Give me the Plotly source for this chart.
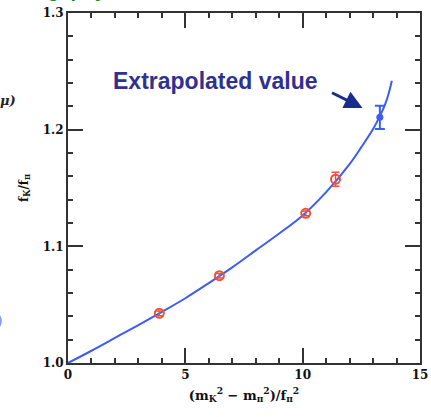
import plotly.graph_objects as go

# Fit curve
curve_x = [0, 1, 2, 3, 4, 5, 6, 7, 8, 9, 10, 11, 12, 12.5, 13, 13.3, 13.5, 13.65, 13.8]
curve_y = [1.000, 1.0105, 1.0215, 1.0325, 1.0438, 1.0555, 1.0685, 1.0820, 1.0965,
           1.1110, 1.1265, 1.1465, 1.1705, 1.185, 1.2005, 1.212, 1.221, 1.230, 1.242]

# Lattice data points
data_x = [3.89, 6.45, 10.13, 11.40]
data_y = [1.0426, 1.0748, 1.1283, 1.1575]
data_err = [0.002, 0.002, 0.002, 0.006]

# Extrapolated value
extrap_x = [13.29]
extrap_y = [1.2106]
extrap_err = [0.010]

serif = "DejaVu Serif"
red = "#f4502e"
blue = "#3d5cf5"

fig = go.Figure()
fig.add_trace(go.Scatter(x=curve_x, y=curve_y, mode="lines",
                         line=dict(color=blue, width=2, shape="spline", smoothing=1.0),
                         hoverinfo="skip"))
fig.add_trace(go.Scatter(x=data_x, y=data_y, mode="markers",
                         marker=dict(symbol="circle-open", size=9, color=red, line=dict(width=2)),
                         error_y=dict(type="data", array=data_err, color=red, thickness=1.5, width=4)))
fig.add_trace(go.Scatter(x=extrap_x, y=extrap_y, mode="markers",
                         marker=dict(symbol="circle", size=7, color=blue),
                         error_y=dict(type="data", array=extrap_err, color=blue, thickness=2, width=5)))

axis_common = dict(showgrid=False, zeroline=False, showline=True, linecolor="#333",
                   linewidth=2, mirror="allticks", ticks="inside", ticklen=15,
                   tickwidth=2, tickcolor="#333", automargin=False,
                   tickfont=dict(family=serif, size=12, color="#111", weight="bold"))

fig.update_xaxes(range=[0, 15], tickvals=[0, 5, 10, 15], ticktext=["0", "5", "10", "15"],
                 minor=dict(dtick=1, ticks="inside", ticklen=5, tickwidth=1.5, tickcolor="#333"),
                 title=dict(text="(m<sub>K</sub><sup>2</sup> − m<sub>π</sub><sup>2</sup>)/f<sub>π</sub><sup>2</sup>",
                            font=dict(family=serif, size=13, color="#111", weight="bold"), standoff=9),
                 **axis_common)
fig.update_yaxes(range=[1.0, 1.3], tickvals=[1.0, 1.1, 1.2, 1.3], ticktext=["1.0", "1.1", "1.2", "1.3"],
                 minor=dict(dtick=0.02, ticks="inside", ticklen=5, tickwidth=1.5, tickcolor="#333"),
                 title=dict(text="f<sub>K</sub>/f<sub>π</sub>",
                            font=dict(family=serif, size=12, color="#111", weight="bold"), standoff=12),
                 **axis_common)

fig.add_annotation(x=12.55, y=1.2186, xref="x", yref="y", ax=-32, ay=-16,
                   showarrow=True, arrowhead=2, arrowsize=1.2, arrowwidth=3,
                   arrowcolor="#1a2d8c", text="")
fig.add_annotation(xref="x", yref="y", x=(215 - 68.3) / 23.4, y=1 + (363 - 81) / 1166.7,
                   text="<b>Extrapolated value</b>", showarrow=False,
                   font=dict(family="Liberation Sans", size=23, color="#2e3192"))
fig.add_annotation(xref="paper", yref="paper", x=-0.17, y=(363 - 100) / 350,
                   xanchor="center", yanchor="middle", text="<b><i>μ)</i></b>",
                   showarrow=False, font=dict(family=serif, size=13, color="#222"))
fig.add_annotation(xref="paper", yref="paper", x=-0.1, y=1.029, xanchor="left", yanchor="bottom",
                   text="<b>ng, physical</b>", showarrow=False,
                   font=dict(family="Liberation Sans", size=20, color="#1a8a1a"))
# partial bullet at the slide's left edge
fig.add_shape(type="circle", xref="paper", yref="paper",
              x0=-0.205, x1=-0.188, y0=(363 - 327) / 350, y1=(363 - 315) / 350,
              fillcolor="#8a9cff", line=dict(width=0))

fig.update_layout(width=431, height=417, margin=dict(l=68, r=11, t=13, b=54),
                  plot_bgcolor="white", paper_bgcolor="white", showlegend=False)

fig.write_html("out.html", config={"displayModeBar": False},
               post_script="document.body.style.margin='0';document.body.style.overflow='hidden';")
